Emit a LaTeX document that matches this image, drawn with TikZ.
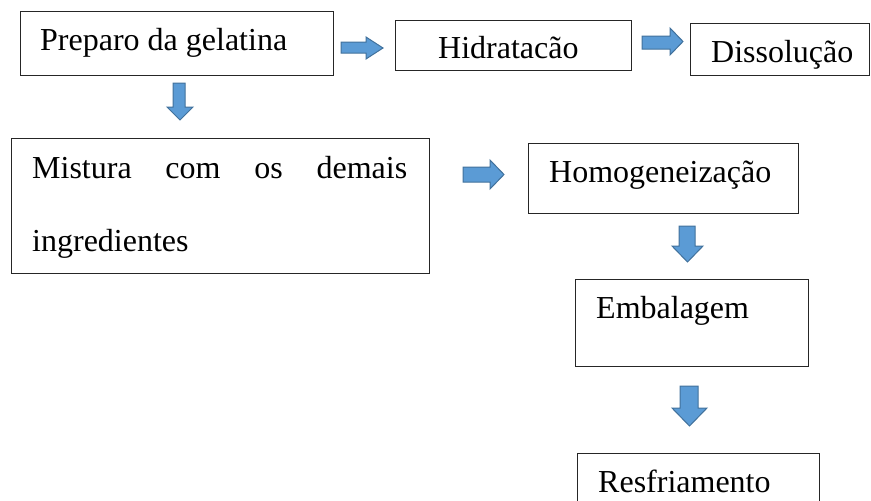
\documentclass[tikz,border=0pt]{standalone}
\usepackage{fontspec}
\setmainfont{Liberation Serif}
\definecolor{arrfill}{HTML}{5B9BD5}
\definecolor{arrdraw}{HTML}{41719C}
\definecolor{boxc}{HTML}{262626}
\newcommand\blockR[7]{% x1 xh x2 ytop yshaft1 yshaft2 ybot
  \draw[blk] (#1,#5) -- (#2,#5) -- (#2,#4) -- (#3,{(#4+#7)/2}) -- (#2,#7) -- (#2,#6) -- (#1,#6) -- cycle;}
\newcommand\blockD[7]{% y1 yh y2 xleft xshaft1 xshaft2 xright
  \draw[blk] (#5,#1) -- (#5,#2) -- (#4,#2) -- ({(#4+#7)/2},#3) -- (#7,#2) -- (#6,#2) -- (#6,#1) -- cycle;}
\begin{document}
\begin{tikzpicture}[x=1pt,y=-1pt,
  box/.style={draw=boxc, line width=1.2pt, inner sep=0pt, anchor=north west},
  blk/.style={fill=arrfill, draw=arrdraw, line width=1pt, line join=miter},
  txt/.style={anchor=base west, inner sep=0pt, font=\fontsize{32}{38}\selectfont}]
\useasboundingbox (0,0) rectangle (871,501);
\clip (0,0) rectangle (871,501);
% boxes
\node[box, minimum width=313pt, minimum height=64pt] (b1) at (20,11) {};
\node[box, minimum width=236pt, minimum height=50pt] (b2) at (395,20) {};
\node[box, minimum width=179pt, minimum height=52pt] (b3) at (690,23) {};
\node[box, minimum width=418pt, minimum height=135pt] (b4) at (11,138) {};
\node[box, minimum width=270pt, minimum height=70pt] (b5) at (528,143) {};
\node[box, minimum width=233pt, minimum height=87pt] (b6) at (575,279) {};
\node[box, minimum width=242pt, minimum height=70pt] (b7) at (577,453) {};
% texts
\node[txt] (t1) at (40,50) {Preparo da gelatina};
\node[txt] (t2) at (438,58) {Hidratacão};
\node[txt] (t3) at (711,62) {Dissolução};
\node[txt] (t4a) at (32,178) {\makebox[375pt][s]{Mistura com os demais}};
\node[txt] (t4b) at (32,251) {ingredientes};
\node[txt] (t5) at (549,182) {Homogeneização};
\node[txt] (t6) at (596,318) {Embalagem};
\node[txt] (t7) at (598,492) {Resfriamento};
% block arrows
\blockR{341}{366}{383}{37}{42}{53}{59}
\blockR{642}{670}{683}{28}{36}{49}{55}
\blockR{463}{490}{504}{160}{167}{182}{189}
\blockD{83}{107}{120}{167}{173}{185}{193}
\blockD{226}{246}{262}{672}{679}{695}{703}
\blockD{386}{408}{426}{672}{680}{698}{707}
\end{tikzpicture}
\end{document}
